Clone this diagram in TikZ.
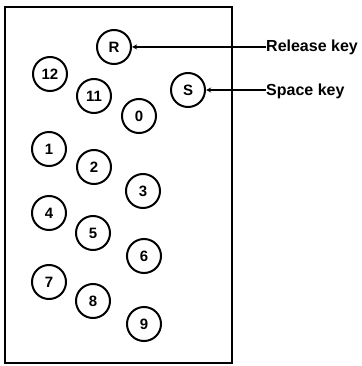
\documentclass[tikz,border=0pt]{standalone}
\usepackage{fontspec}
\setmainfont{Liberation Sans}
\tikzset{
  key/.style={circle, draw, line width=2pt, minimum size=34pt, inner sep=0pt,
    font=\fontsize{15}{15}\selectfont\bfseries},
  keylabel/.style={anchor=base west, inner sep=0pt,
    font=\fontsize{16}{16}\selectfont\bfseries}
}
\begin{document}
\begin{tikzpicture}[x=1pt, y=-1pt]
        \useasboundingbox (0,0) rectangle (361,366);
        % Keyboard plate
        \draw[line width=2pt] (5,7) rectangle (232,363);
        % Top keys
        \node[key] (kR) at (114,47) {R};
        \node[key] (kS) at (188,90) {S};
        \node[key] (k12) at (50,74) {12};
        \node[key] (k11) at (94,96) {11};
        \node[key] (k0) at (139,116) {0};
        % Number keys
        \node[key] (k1) at (49,149) {1};
        \node[key] (k2) at (94,167) {2};
        \node[key] (k3) at (143,191) {3};
        \node[key] (k4) at (49,213) {4};
        \node[key] (k5) at (93,233) {5};
        \node[key] (k6) at (144,256) {6};
        \node[key] (k7) at (49,282) {7};
        \node[key] (k8) at (93,301) {8};
        \node[key] (k9) at (144,324) {9};
        % Labels
        \node[keylabel] (release) at (266,52) {Release key};
        \node[keylabel] (space) at (266,96) {Space key};
        % Arrows
        \draw[<-, >=stealth, line width=1.3pt] (kR) -- (kR -| release.west);
        \draw[<-, >=stealth, line width=1.3pt] (kS) -- (kS -| space.west);
\end{tikzpicture}
\end{document}
